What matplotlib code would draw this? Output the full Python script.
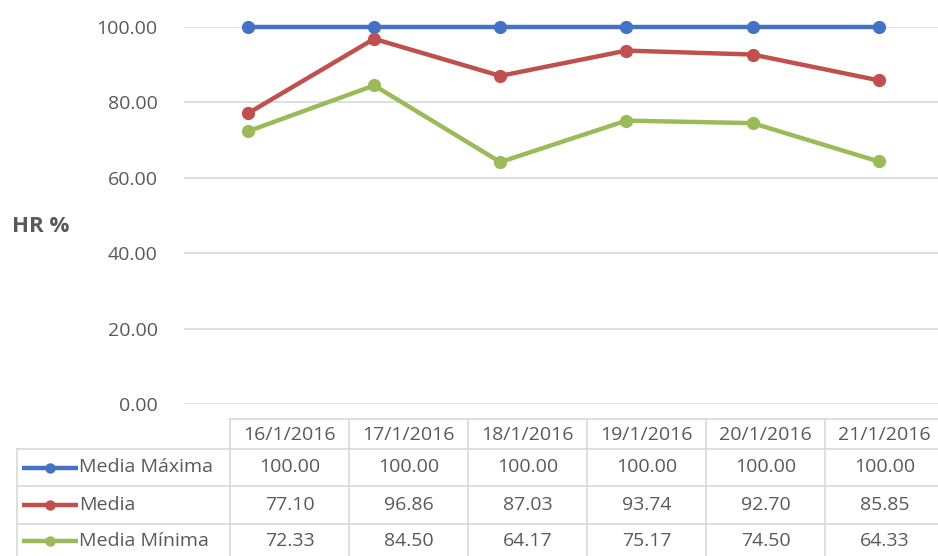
import matplotlib.pyplot as plt
import numpy as np

plt.rcParams['font.family'] = ['Open Sans', 'DejaVu Sans']

# datos de humedad relativa por día
fechas = ['16/1/2016', '17/1/2016', '18/1/2016', '19/1/2016', '20/1/2016', '21/1/2016']
series = ['Media Máxima', 'Media', 'Media Mínima']
media_max = [100.00, 100.00, 100.00, 100.00, 100.00, 100.00]
media = [77.10, 96.86, 87.03, 93.74, 92.70, 85.85]
media_min = [72.33, 84.50, 64.17, 75.17, 74.50, 64.33]
colores = ['#4472C4', '#C0504D', '#9BBB59']
yticks = [0, 20, 40, 60, 80, 100]

W, H = 938, 556
fig = plt.figure(figsize=(W / 100, H / 100), dpi=100)
gris = '#595959'
borde = '#D9D9D9'
fs = 14

## área del gráfico (en pixeles de la figura)
x0, x1 = 184, 938
ytop, ybot = 27, 404
ax = fig.add_axes([x0 / W, (H - ybot) / H, (x1 - x0) / W, (ybot - ytop) / H])
ax.set_xlim(-0.507, 5.47)
ax.set_ylim(0, 100)
for v in yticks:
    ax.axhline(v, color=borde, lw=1.2, zorder=0)
x = np.arange(len(fechas))
for vals, c in zip([media_max, media, media_min], colores):
    ax.plot(x, vals, color=c, lw=3.2, marker='o', ms=8.5, clip_on=False, zorder=3)
ax.set_yticks(yticks)
ax.set_yticklabels(['%.2f' % v for v in yticks], color=gris, fontsize=fs)
ax.tick_params(axis='y', length=0, pad=19)
ax.set_xticks([])
for s in ax.spines.values():
    s.set_visible(False)

## tabla de datos debajo del gráfico
tab = fig.add_axes([0, 0, 1, 1])
tab.set_xlim(0, W)
tab.set_ylim(H, 0)
tab.axis('off')
tab.patch.set_alpha(0)

col_x = [230 + 119 * i for i in range(len(fechas) + 1)]
filas_y = [419, 449, 486, 524, 562]
lw_t = 1.2
tab.plot([col_x[0], W], [filas_y[0]] * 2, color=borde, lw=lw_t)
for yy in filas_y[1:4]:
    tab.plot([17, W], [yy, yy], color=borde, lw=lw_t)
tab.plot([17, 17], [filas_y[1], H], color=borde, lw=lw_t)
for xx in col_x:
    tab.plot([xx, xx], [filas_y[0], H], color=borde, lw=lw_t)

def centro(i):
    return (col_x[i] + col_x[i + 1]) / 2

for i, f in enumerate(fechas):
    tab.text(centro(i), (filas_y[0] + filas_y[1]) / 2 + 1, f, ha='center', va='center',
             color=gris, fontsize=fs)

for r, (nombre, vals, c) in enumerate(zip(series, [media_max, media, media_min], colores)):
    yc = (filas_y[r + 1] + filas_y[r + 2]) / 2 - (2 if r == 2 else 0)
    tab.plot([22, 78], [yc, yc], color=c, lw=3.2, solid_capstyle='butt')
    tab.plot([50], [yc], 'o', color=c, ms=6.5)
    tab.text(79, yc, nombre, ha='left', va='center', color=gris, fontsize=fs)
    for i, v in enumerate(vals):
        tab.text(centro(i), yc, '%.2f' % v, ha='center', va='center', color=gris, fontsize=fs)

fig.text(12 / W, 1 - 226 / H, 'HR %', ha='left', va='center', color=gris,
         fontsize=16, fontweight='bold')

fig.savefig('out.png', dpi=100, facecolor='white')
